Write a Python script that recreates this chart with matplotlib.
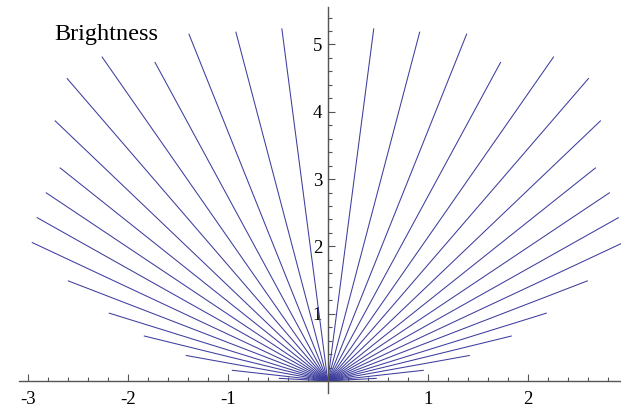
import numpy as np
import matplotlib.pyplot as plt
from matplotlib.ticker import FixedLocator

# endpoints of the rays on the right half (left half is the mirror image)
end_x = [0.00, 0.46, 0.92, 1.39, 1.73, 2.26, 2.61, 2.73, 2.68, 2.82, 2.91, 2.96, 2.60, 2.19, 1.84, 1.42, 0.96, 0.49]
end_y = [5.43, 5.24, 5.19, 5.16, 4.74, 4.82, 4.50, 3.87, 3.17, 2.80, 2.43, 2.06, 1.49, 1.01, 0.67, 0.38, 0.16, 0.04]

x_ticks = [-3, -2, -1, 1, 2]
x_labels = ["-3", "-2", "-1", "1", "2"]
y_ticks = [1, 2, 3, 4, 5]
y_labels = ["1", "2", "3", "4", "5"]
title = "Brightness"

line_color = "#3d3d9e"
axis_color = "#555555"

plt.rcParams['font.family'] = ['Liberation Serif', 'DejaVu Serif']

fig = plt.figure(figsize=(6.21, 4.09), dpi=100)
ax = fig.add_axes([0, 0, 1, 1])

for x, y in zip(end_x, end_y):
    ax.plot([0, x], [0, y], color=line_color, lw=0.75, solid_capstyle='butt')
    if x > 0:
        ax.plot([0, -x], [0, y], color=line_color, lw=0.75, solid_capstyle='butt')

ax.set_xlim(-3.278, 2.932)
ax.set_ylim(-0.416, 5.661)

for s in ['top', 'right']:
    ax.spines[s].set_visible(False)
ax.spines['left'].set_position(('data', 0))
ax.spines['bottom'].set_position(('data', 0))
ax.spines['bottom'].set_bounds(-3.09, 2.932)
ax.spines['left'].set_bounds(-0.18, 5.55)
for s in ['left', 'bottom']:
    ax.spines[s].set_color(axis_color)
    ax.spines[s].set_linewidth(1.0)
    ax.spines[s].set_zorder(3)

ax.set_xticks(x_ticks)
ax.set_xticklabels(x_labels)
ax.set_yticks(y_ticks)
ax.set_yticklabels(y_labels)
ax.xaxis.set_minor_locator(FixedLocator([v for v in np.arange(-3.0, 2.95, 0.2) if abs(v) > 1e-6]))
ax.yaxis.set_minor_locator(FixedLocator(np.arange(0.2, 5.45, 0.2)))

ax.tick_params(which='both', direction='in', color=axis_color, width=0.8)
ax.tick_params(which='major', length=5)
ax.tick_params(which='minor', length=2.8)
ax.tick_params(axis='x', which='major', pad=7, labelsize=13.5)
ax.tick_params(axis='y', which='major', pad=4, labelsize=13.5)

fig.text(54 / 621, 1 - 40 / 409, title, fontsize=17.5, ha='left', va='baseline')

fig.savefig("out.png", dpi=100)
